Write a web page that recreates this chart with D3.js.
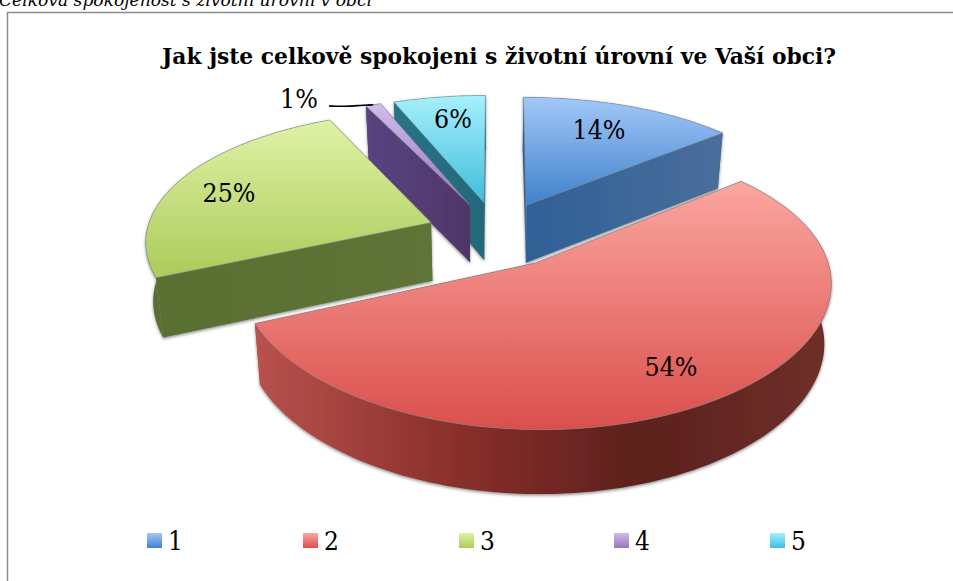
<!DOCTYPE html>
<html><head><meta charset="utf-8">
<script src="https://cdn.jsdelivr.net/npm/d3@7/dist/d3.min.js"></script>
<style>html,body{margin:0;padding:0;background:#fff;overflow:hidden}svg{display:block}
text{font-family:"DejaVu Serif Condensed","DejaVu Serif",serif;fill:#000}</style></head><body>
<svg id="c" width="953" height="581"></svg>
<script>
// data
const categories = ["1","2","3","4","5"];
const values = [14,54.4,24.6,1,6];
const percentLabels = ["14%","54%","25%","1%","6%"];
const captionText = "Celková spokojenost s životní úrovní v obci";
const titleText = "Jak jste celkově spokojeni s životní úrovní ve Vaší obci?";

// styles
const topColors = [["#A3C8F8","#3F81CC"],["#FCA6A0","#DA4F4C"],["#E0F2A6","#ABCB5A"],["#D0BCEB","#9676BC"],["#A6F0FC","#3FBEDC"]];
const sideColors = [["#2F6096","#4A6E9C"],["#B8524D","#8C302C","#5C201C","#6E3029"],["#596F30","#5F7438"],["#5A4480","#4E3668"],["#2A7486","#23687A"]];
const explode = 0.25, persp = 0.15, perspX = 0.125;
const labelAt = [[599,139],[671,376],[229,202],[299,108],[453,128]];
const legendX = [147,303,459,614,770];
const drawOrder = [4,3,0,2,1];

const svg = d3.select("#c");
const defs = svg.append("defs");
const f = defs.append("filter").attr("id","sh").attr("x","-10%").attr("y","-10%").attr("width","120%").attr("height","125%");
f.append("feDropShadow").attr("dx",0).attr("dy",1.5).attr("stdDeviation",1.6).attr("flood-color","#555").attr("flood-opacity",.65);

topColors.forEach((c,i)=>{
  const g=defs.append("linearGradient").attr("id","t"+i).attr("x1",0).attr("y1",0).attr("x2",0).attr("y2",1);
  g.append("stop").attr("offset",0).attr("stop-color",c[0]);
  g.append("stop").attr("offset",1).attr("stop-color",c[1]);
  const s=defs.append("linearGradient").attr("id","s"+i).attr("x1",0).attr("y1",0).attr("x2",1).attr("y2",0);
  sideColors[i].forEach((k,j,a)=>s.append("stop").attr("offset",j/(a.length-1)).attr("stop-color",k));
});

// frame
svg.append("path").attr("d","M7.5,581V12.5H953").attr("fill","none").attr("stroke","#8c8c8c").attr("stroke-width",1.5);
svg.append("text").attr("x",-1).attr("y",6).attr("font-style","italic").attr("font-size",17)
  .attr("textLength",373).attr("lengthAdjust","spacingAndGlyphs").text(captionText);
svg.append("text").attr("x",162).attr("y",64).attr("font-weight","bold").attr("font-size",23)
  .attr("textLength",674).attr("lengthAdjust","spacingAndGlyphs").text(titleText);

// projection scales
const xTop = d3.scaleLinear().domain([0,1]).range([497,497+285]);
const yTop = d3.scaleLinear().domain([0,1]).range([234,234-132]);
const xBot = d3.scaleLinear().domain([0,1]).range([497,497+279]);
const yBot = d3.scaleLinear().domain([0,1]).range([292.5,292.5-136]);
const pie = d3.pie().sort(null).value(d=>d)(values);

function ground(p,th,r){
  const bis=(p.startAngle+p.endAngle)/2;
  return [r*Math.sin(th)+explode*Math.sin(bis), r*Math.cos(th)+explode*Math.cos(bis)];
}
const top3=(g)=>[xTop(g[0]/(1+perspX*g[1])),yTop(g[1]/(1+persp*g[1]))];
const bot3=(g)=>[xBot(g[0]/(1+perspX*g[1])),yBot(g[1]/(1+persp*g[1]))];
const line=d3.line();
const angles=(a,b)=>{const n=Math.max(2,Math.ceil((b-a)/0.03));return d3.range(n+1).map(i=>a+(b-a)*i/n)};

const layer=svg.append("g");
drawOrder.forEach(i=>{
  const p=pie[i];
  const arc=angles(p.startAngle,p.endAngle);
  const g=layer.append("g").attr("filter","url(#sh)");
  const apex=ground(p,0,0);
  const faces=[
   {z:Math.cos(p.startAngle)/2, pts:[top3(apex),top3(ground(p,p.startAngle,1)),bot3(ground(p,p.startAngle,1)),bot3(apex)]},
   {z:Math.cos(p.endAngle)/2, pts:[top3(apex),top3(ground(p,p.endAngle,1)),bot3(ground(p,p.endAngle,1)),bot3(apex)]},
   {z:Math.cos((p.startAngle+p.endAngle)/2)*(i==2?-1:1), pts:arc.map(t=>top3(ground(p,t,1))).concat(arc.slice().reverse().map(t=>bot3(ground(p,t,1))))}
  ].sort((a,b)=>b.z-a.z);
  faces.forEach(fc=>g.append("path").attr("d",line(fc.pts)+"Z").attr("fill",`url(#s${i})`));
  g.append("path").attr("d",line([top3(apex)].concat(arc.map(t=>top3(ground(p,t,1)))))+"Z")
   .attr("fill",`url(#t${i})`).attr("stroke","#7f8a8a").attr("stroke-opacity",.7).attr("stroke-width",.8).attr("stroke-linejoin","round");
});

// data labels
percentLabels.forEach((t,i)=>svg.append("text").attr("x",labelAt[i][0]).attr("y",labelAt[i][1])
  .attr("text-anchor","middle").attr("font-size",26.5).text(t));
// leader
const lp=pie[3];
const lEnd=top3(ground(lp,(lp.startAngle+lp.endAngle)/2,1));
svg.append("path").attr("d",d3.line().curve(d3.curveBasis)([[329,106],[345,106.5],[360,105.5],lEnd]))
  .attr("fill","none").attr("stroke","#000").attr("stroke-width",1.6);

// legend
categories.forEach((c,i)=>{
  const x=legendX[i];
  svg.append("rect").attr("x",x).attr("y",533).attr("width",15).attr("height",15).attr("fill",`url(#t${i})`);
  svg.append("text").attr("x",x+21).attr("y",550).attr("font-size",26).text(c);
});
</script></body></html>
